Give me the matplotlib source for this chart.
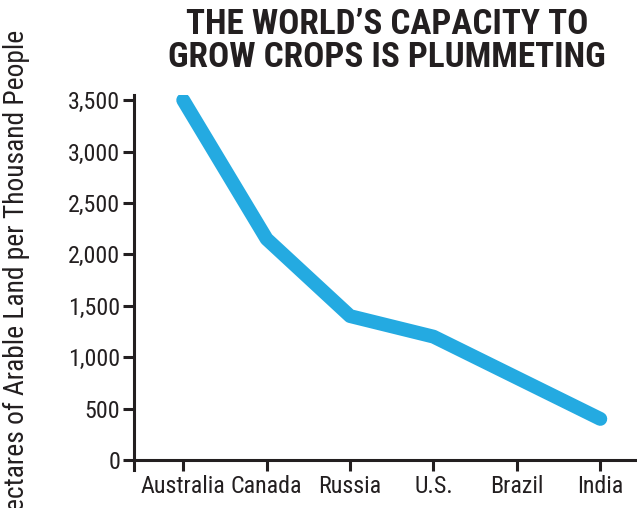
import matplotlib
matplotlib.use("Agg")
import matplotlib.pyplot as plt
from matplotlib.ticker import FuncFormatter
from matplotlib import font_manager
from matplotlib.font_manager import FontProperties
from matplotlib.textpath import TextPath

countries = ["Australia", "Canada", "Russia", "U.S.", "Brazil", "India"]
hectares = [3500, 2150, 1400, 1200, 800, 400]
yticks = [0, 500, 1000, 1500, 2000, 2500, 3000, 3500]
title = "THE WORLD\u2019S CAPACITY TO\nGROW CROPS IS PLUMMETING"
ylabel = "Hectares of Arable Land per Thousand People"

names = {f.name for f in font_manager.fontManager.ttflist}
fam = None
stretch = "normal"
for c in ["Roboto Condensed", "Liberation Sans Narrow", "Arial Narrow",
          "Nimbus Sans Narrow", "Open Sans Condensed", "Roboto", "Open Sans",
          "Noto Sans", "DejaVu Sans"]:
    if c in names:
        p = font_manager.findfont(FontProperties(family=c, stretch="condensed"),
                                  fallback_to_default=False)
        low = p.lower()
        if "condensed" in low or "narrow" in low:
            fam, stretch = c, "condensed"
            break
if fam is None:
    fam = "Roboto" if "Roboto" in names else "DejaVu Sans"
plt.rcParams["font.family"] = [fam, "DejaVu Sans"]
plt.rcParams["font.stretch"] = stretch


def fit_size(text, target_px, weight="normal"):
    fp = FontProperties(family=fam, weight=weight, stretch=stretch, size=100)
    w = TextPath((0, 0), text, prop=fp).get_extents().width
    return 100 * target_px / (w * 100 / 72)


title_size = fit_size("GROW CROPS IS PLUMMETING", 435, "bold")
tick_size = min(fit_size("Australia", 83), 19)
ylab_size = fit_size(ylabel, 495)

W, H = 637, 508
fig = plt.figure(figsize=(W / 100, H / 100), dpi=100)
ax = fig.add_axes([134 / W, (H - 470) / H, (W - 134) / W, (470 - 95) / H])

x = list(range(len(countries)))
ax.plot(x, hectares, color="#24AAE1", lw=10, solid_capstyle="round",
        solid_joinstyle="round")

ax.set_xlim(-0.59, 5.44)
ax.set_ylim(-97, 3550)
ax.set_xticks(x)
ax.set_xticklabels(countries)
ax.set_yticks(yticks)
ax.yaxis.set_major_formatter(FuncFormatter(lambda v, p: f"{int(v):,}"))

for s in ["top", "right"]:
    ax.spines[s].set_visible(False)
ax.spines["bottom"].set_position(("data", 0))
for s in ["left", "bottom"]:
    ax.spines[s].set_linewidth(2.2)
    ax.spines[s].set_color("#231f20")
ax.tick_params(axis="both", direction="out", length=8, width=2.2,
               color="#231f20", labelsize=tick_size, labelcolor="#231f20")
ax.tick_params(axis="y", pad=2)
ax.tick_params(axis="x", pad=3)

fig.text(387 / W, 1 - 8 / H, title, ha="center", va="top", fontsize=title_size,
         fontweight="bold", color="#231f20", linespacing=1.0)
fig.text(16 / W, 1 - 30 / H, ylabel, rotation=90, ha="center", va="top",
         fontsize=ylab_size, color="#231f20")

fig.savefig("out.png", dpi=100)
